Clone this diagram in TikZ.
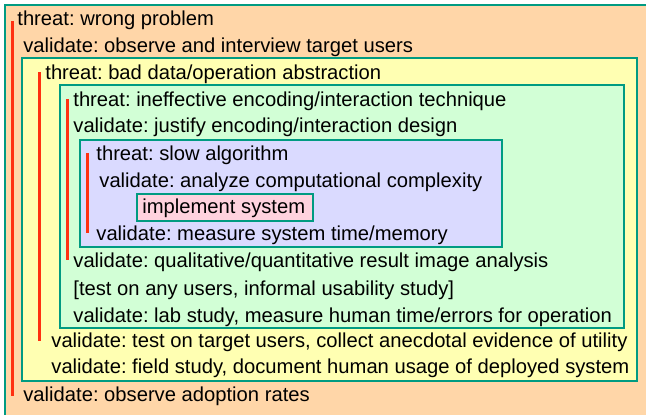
\documentclass[tikz,border=0pt]{standalone}
\usepackage{fontspec}
\setmainfont{Liberation Sans}
\frenchspacing
\definecolor{peach}{RGB}{255,214,168}
\definecolor{paleyellow}{RGB}{255,255,178}
\definecolor{palegreen}{RGB}{210,255,214}
\definecolor{lavender}{RGB}{218,218,255}
\definecolor{palepink}{RGB}{255,210,222}
\definecolor{teal}{RGB}{0,155,130}
\definecolor{barred}{RGB}{255,48,16}

\begin{document}
\begin{tikzpicture}[x=0.5pt,y=-0.5pt,
	level/.style={draw=teal,line width=1pt},
	txt/.style={anchor=base west,inner sep=0pt,font=\fontsize{10.1}{12}\selectfont},
	bar/.style={barred,line width=1.5pt}]
	\useasboundingbox (0,0) rectangle (646,414);
	% nested levels
	\fill[peach,level] (4.5,4.5) rectangle (660,430);
	\fill[paleyellow,level] (22,58) rectangle (637,381);
	\fill[palegreen,level] (60,85) rectangle (624,328);
	\fill[lavender,level] (80,140) rectangle (502,247);
	\fill[palepink,level] (137,194) rectangle (313,221);
	% threat bars
	\draw[bar] (12,21) -- (12,396);
	\draw[bar] (39,72) -- (39,341);
	\draw[bar] (67,99) -- (67,260);
	\draw[bar] (87,153) -- (87,233);
	% labels
	\node[txt] (domthreat) at (17,25) {threat: wrong problem};
	\node[txt] (domval1) at (23,52) {validate: observe and interview target users};
	\node[txt] (absthreat) at (45,79) {threat: bad data/operation abstraction};
	\node[txt] (encthreat) at (73,106) {threat: ineffective encoding/interaction technique};
	\node[txt] (encval1) at (73,132) {validate: justify encoding/interaction design};
	\node[txt] (algthreat) at (96,160) {threat: slow algorithm};
	\node[txt] (algval1) at (99,187) {validate: analyze computational complexity};
	\node[txt] (impl) at (142,213) {implement system};
	\node[txt] (algval2) at (96,240) {validate: measure system time/memory};
	\node[txt] (encval2) at (73,267) {validate: qualitative/quantitative result image analysis};
	\node[txt] (encval3) at (73,295) {[test on any users, informal usability study]};
	\node[txt] (encval4) at (73,322) {validate: lab study, measure human time/errors for operation};
	\node[txt] (absval1) at (51,347) {validate: test on target users, collect anecdotal evidence of utility};
	\node[txt] (absval2) at (51,373) {validate: field study, document human usage of deployed system};
	\node[txt] (domval2) at (23,401) {validate: observe adoption rates};
\end{tikzpicture}
\end{document}
